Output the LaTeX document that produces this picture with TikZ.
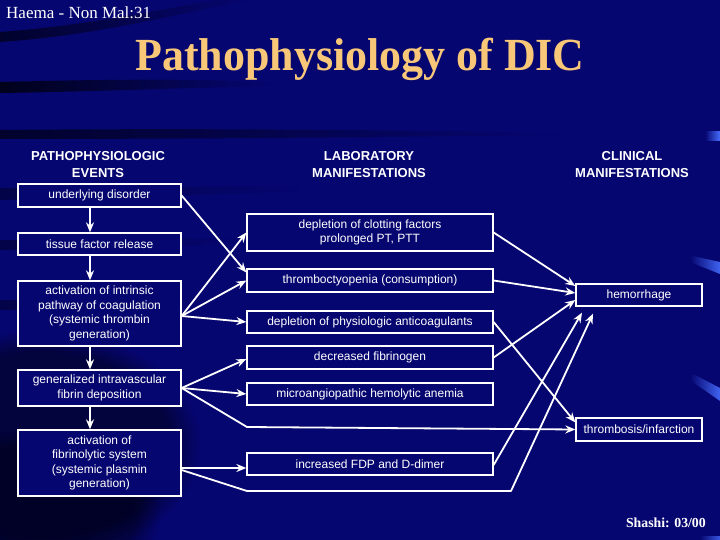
\documentclass[tikz,border=0pt]{standalone}
\usepackage{fontspec}
\usepackage{graphicx}
\setmainfont{Liberation Serif}
\setsansfont{Liberation Sans}
\usetikzlibrary{arrows.meta,fadings}
\definecolor{bg}{RGB}{6,6,112}
\definecolor{titlec}{RGB}{248,200,120}
\definecolor{spot}{RGB}{70,110,255}
\tikzset{
  box/.style={draw=white, line width=1.3pt, fill=bg, text=white, inner sep=0pt,
    align=center, font=\sffamily\fontsize{12}{14.5}\selectfont},
  lbox/.style={box, minimum width=163pt},
  mbox/.style={box, minimum width=246pt},
  rbox/.style={box, minimum width=126pt},
  hdr/.style={text=white, align=center, inner sep=0pt,
    font=\sffamily\bfseries\fontsize{13}{17}\selectfont},
  conn/.style={white, line width=1.8pt, -{Stealth[length=10pt,width=8pt]}},
}
\begin{document}
\begin{tikzpicture}[x=1pt,y=-1pt]
\fill[bg] (0,0) rectangle (720,540);
\useasboundingbox (0,0) rectangle (720,540);
% background texture
\fill[black, opacity=0.6, path fading=east] (0,42) .. controls (90,36) and (170,16) .. (250,0) -- (215,0) .. controls (150,12) and (80,26) .. (0,32) -- cycle;
\fill[black, opacity=0.75, path fading=east] (0,82) .. controls (80,80) and (180,78) .. (270,82) -- (270,86) .. controls (180,88) and (80,92) .. (0,93) -- cycle;
\fill[black, opacity=0.6, path fading=east] (0,130) .. controls (200,128) and (400,130) .. (560,133) -- (560,135) .. controls (400,137) and (200,139) .. (0,139) -- cycle;
\fill[black, opacity=0.35, path fading=east] (0,188) -- (300,186) -- (300,192) -- (0,200) -- cycle;
\fill[black, opacity=0.35, path fading=east] (0,240) -- (240,238) -- (240,244) -- (0,250) -- cycle;
\fill[black, opacity=0.35, path fading=east] (0,300) -- (200,300) -- (200,306) -- (0,310) -- cycle;
\fill[black, opacity=0.45, path fading=circle with fuzzy edge 20 percent] (-120,330) rectangle (200,560);
\fill[black, opacity=0.35, path fading=circle with fuzzy edge 20 percent] (-100,430) rectangle (160,600);
\fill[spot, path fading=west] (705,131) rectangle (720,141);
\fill[spot, opacity=0.9, path fading=west] (692,256) -- (720,262) -- (720,274) -- (690,262) -- cycle;
\fill[spot, opacity=0.9, path fading=west] (693,374) -- (720,388) -- (720,401) -- (690,380) -- cycle;
\fill[spot, opacity=0.8, path fading=west] (700,536) rectangle (720,540);
% texts
\node[anchor=base west, text=white, inner sep=0pt, font=\fontsize{17}{19}\selectfont] (tag) at (6,19) {Haema - Non Mal:31};
\node[anchor=base, text=titlec, inner sep=0pt, font=\bfseries\fontsize{46}{50}\selectfont] (title) at (360,71) {\scalebox{0.955}[1]{Pathophysiology of DIC}};
\node[anchor=base east, text=white, inner sep=0pt, font=\bfseries\fontsize{13.8}{16}\selectfont] (sig) at (706,527) {Shashi: 03/00};
\node[hdr] (h1) at (98,165) {PATHOPHYSIOLOGIC\\EVENTS};
\node[hdr] (h2) at (369,165) {LABORATORY\\MANIFESTATIONS};
\node[hdr] (h3) at (632,165) {CLINICAL\\MANIFESTATIONS};
% left column
\node[lbox, minimum height=23pt] (ud) at (99.5,195.5) {underlying disorder};
\node[lbox, minimum height=22pt] (tf) at (99.5,244) {tissue factor release};
\node[lbox, minimum height=65pt] (ai) at (99.5,313.5) {activation of intrinsic\\pathway of coagulation\\(systemic thrombin\\generation)};
\node[lbox, minimum height=36pt] (gi) at (99.5,388) {generalized intravascular\\fibrin deposition};
\node[lbox, minimum height=66pt] (af) at (99.5,463) {activation of\\fibrinolytic system\\(systemic plasmin\\generation)};
% middle column
\node[mbox, minimum height=37pt] (dc) at (370,232.5) {depletion of clotting factors\\prolonged PT, PTT};
\node[mbox, minimum height=23pt] (th) at (370,280.5) {thromboctyopenia (consumption)};
\node[mbox, minimum height=22pt] (dp) at (370,322) {depletion of physiologic anticoagulants};
\node[mbox, minimum height=23pt] (df) at (370,357.5) {decreased fibrinogen};
\node[mbox, minimum height=22pt] (ma) at (370,394) {microangiopathic hemolytic anemia};
\node[mbox, minimum height=22pt] (fdp) at (370,464) {increased FDP and D-dimer};
% right column
\node[rbox, minimum height=22pt] (hem) at (639,295) {hemorrhage};
\node[rbox, minimum height=23pt] (thr) at (639,429.5) {thrombosis/infarction};
% corner points
\coordinate (c1) at (247,427);
\coordinate (c2) at (247,491);
\coordinate (c3) at (511,491);
% vertical chain
\draw[conn] ([xshift=-9.5pt]ud.south) -- ([xshift=-9.5pt]tf.north);
\draw[conn] ([xshift=-9.5pt]tf.south) -- ([xshift=-9.5pt]ai.north);
\draw[conn] ([xshift=-9.5pt]ai.south) -- ([xshift=-9.5pt]gi.north);
\draw[conn] ([xshift=-9.5pt]gi.south) -- ([xshift=-9.5pt]af.north);
% left to middle
\draw[conn] (ud.east) -- ([yshift=8pt]th.west);
\draw[conn] ([yshift=-2.5pt]ai.east) -- (dc.west);
\draw[conn] ([yshift=-2.5pt]ai.east) -- (th.west);
\draw[conn] ([yshift=-2.5pt]ai.east) -- (dp.west);
\draw[conn] (gi.east) -- ([yshift=-1.5pt]df.west);
\draw[conn] (gi.east) -- (ma.west);
\draw[conn] ([yshift=-5pt]af.east) -- ([yshift=-4pt]fdp.west);
% middle to right
\draw[conn] (dc.east) -- ([yshift=9pt]hem.west);
\draw[conn] (th.east) -- ([yshift=2pt]hem.west);
\draw[conn] (df.east) -- ([yshift=-5pt]hem.west);
\draw[conn] (dp.east) -- ([yshift=7pt]thr.west);
\draw[conn] ([yshift=-1pt]fdp.east) -- ([xshift=-57pt,yshift=-6pt]hem.south);
\draw[conn, line join=round] (gi.east) -- (c1) -- (thr.west);
\draw[conn, line join=round] ([yshift=-7pt]af.east) -- (c2) -- (c3) -- ([xshift=-46pt,yshift=-7pt]hem.south);
\end{tikzpicture}
\end{document}
